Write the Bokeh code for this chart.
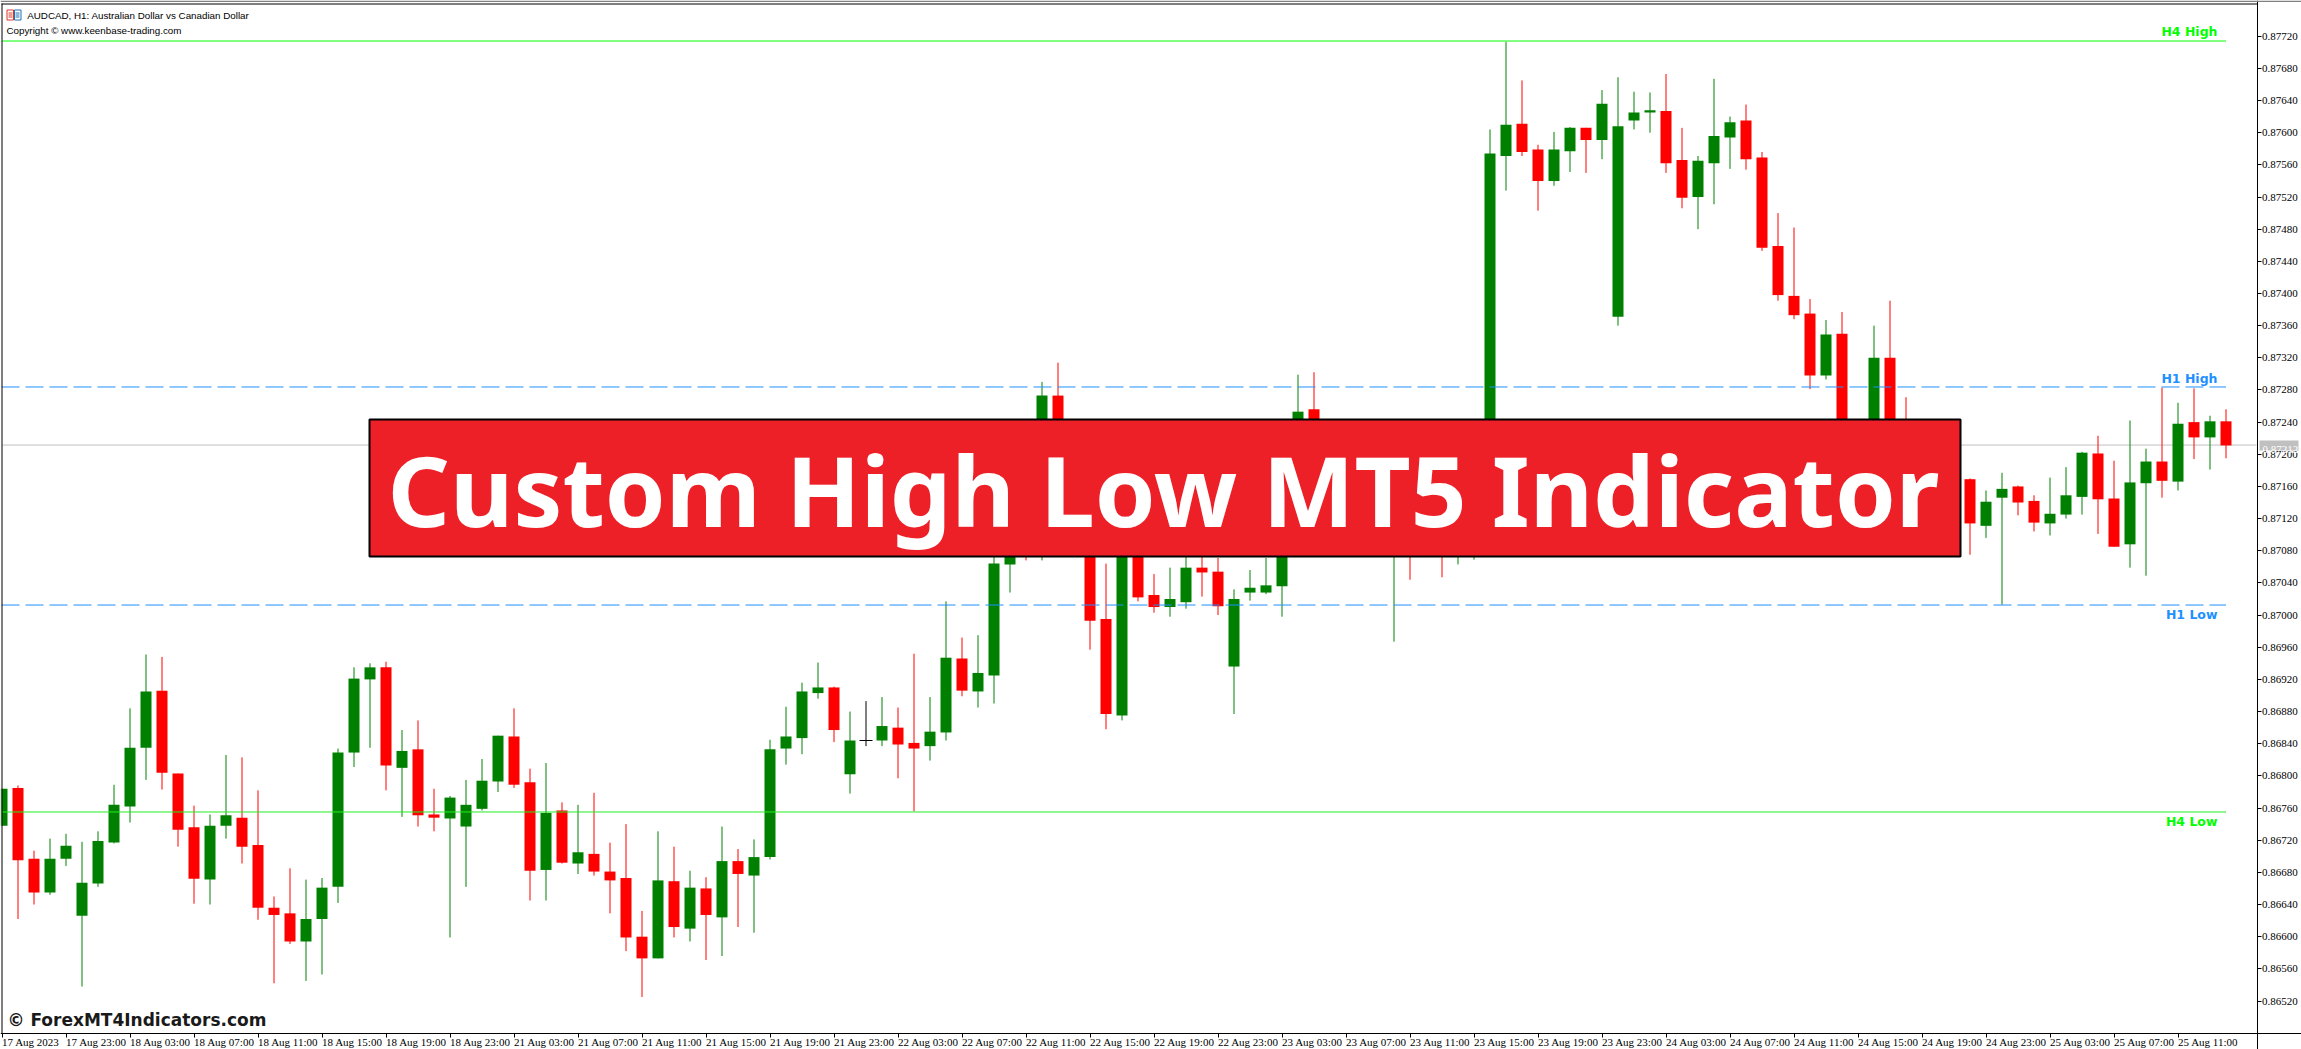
from bokeh.plotting import figure
from bokeh.models import (ColumnDataSource, Range1d, LinearAxis, FixedTicker, PrintfTickFormatter,
                          LabelSet, Label, BoxAnnotation)
from bokeh.core.properties import value
from bokeh.embed import file_html
from bokeh.resources import INLINE

# prices in 1e-5 units
opens = [86738,86785,86697,86655,86697,86626,86666,86717,86762,86835,
86906,86803,86736,86671,86738,86748,86714,86636,86629,86594,
86622,86662,86829,86920,86935,86810,86833,86752,86747,86737,
86759,86793,86849,86792,86683,86757,86691,86703,86681,86673,
86600,86573,86669,86610,86660,86624,86694,86676,86699,86834,
86847,86903,86910,86802,86844,86844,86860,86841,86837,86854,
86946,86905,86925,87063,87178,87130,87273,87200,87165,86995,
86875,87095,87025,87010,87016,87059,87054,86936,87028,87028,
87036,87165,87256,87180,87150,87185,87210,87170,87200,87150,
87195,87130,87180,87200,87571,87611,87579,87540,87577,87606,
87591,87371,87615,87625,87627,87566,87520,87562,87594,87615,
87569,87459,87397,87375,87298,87350,87200,87210,87320,87205,
87150,87190,87165,87169,87111,87146,87160,87142,87114,87125,
87147,87201,87145,87088,87164,87191,87166,87240,87221,87241]
closes = [86784,86695,86655,86697,86713,86667,86719,86764,86835,86905,
86804,86733,86672,86738,86751,86712,86636,86627,86594,86622,
86661,86829,86921,86935,86813,86831,86751,86748,86773,86764,
86794,86850,86789,86682,86754,86692,86705,86681,86670,86599,
86573,86670,86612,86661,86627,86694,86678,86699,86833,86849,
86905,86910,86857,86844,86844,86862,86839,86834,86855,86947,
86906,86928,87064,87180,87130,87273,87200,87170,86993,86877,
87100,87022,87010,87020,87059,87053,87011,87020,87034,87037,
87170,87253,87180,87150,87190,87210,87170,87200,87150,87195,
87130,87180,87225,87574,87610,87576,87540,87579,87606,87591,
87636,87608,87625,87628,87562,87519,87565,87596,87613,87567,
87457,87398,87373,87298,87349,87200,87225,87320,87200,87150,
87190,87165,87175,87114,87141,87157,87140,87115,87126,87149,
87202,87144,87085,87165,87191,87167,87238,87221,87241,87211]
highs = [86784,86788,86707,86722,86728,86718,86731,86789,86884,86951,
86948,86803,86763,86752,86826,86823,86782,86650,86685,86671,
86673,86834,86935,86940,86942,86857,86869,86784,86775,86795,
86821,86850,86884,86809,86816,86767,86764,86779,86717,86740,
86632,86731,86712,86682,86674,86737,86709,86721,86845,86886,
86916,86941,86911,86880,86893,86898,86885,86952,86898,87017,
86972,86975,87105,87200,87230,87290,87314,87225,87200,87064,
87110,87110,87051,87059,87085,87085,87071,87032,87056,87071,
87190,87299,87302,87210,87215,87225,87225,87225,87225,87220,
87225,87210,87240,87604,87713,87665,87585,87601,87607,87606,
87653,87669,87651,87650,87673,87606,87571,87667,87620,87635,
87576,87500,87482,87393,87367,87377,87235,87360,87391,87271,
87220,87215,87210,87170,87155,87177,87161,87149,87171,87184,
87203,87223,87192,87242,87207,87283,87264,87282,87248,87256]
lows = [86738,86622,86640,86652,86688,86538,86662,86716,86742,86795,
86783,86712,86641,86640,86722,86691,86621,86542,86591,86545,
86553,86642,86811,86835,86782,86749,86737,86731,86599,86662,
86757,86780,86785,86645,86645,86691,86678,86676,86629,86582,
86525,86573,86599,86594,86571,86576,86612,86605,86696,86814,
86827,86896,86842,86778,86837,86837,86797,86756,86819,86844,
86899,86885,86890,87028,87068,87068,87150,87140,86957,86858,
86869,87017,87003,86998,87008,87023,87000,86877,87018,87026,
86998,87120,87150,87120,87130,87160,87130,86967,87044,87100,
87047,87063,87069,87150,87528,87571,87503,87534,87551,87550,
87567,87360,87604,87600,87550,87506,87480,87511,87555,87554,
87453,87391,87368,87281,87293,87190,87160,87160,87150,87120,
87110,87120,87100,87075,87096,87013,87124,87104,87099,87120,
87125,87101,87085,87059,87049,87146,87155,87194,87181,87195]

price_ticks = [0.8652,0.8656,0.866,0.8664,0.8668,0.8672,0.8676,0.868,0.8684,0.8688,0.8692,
               0.8696,0.87,0.8704,0.8708,0.8712,0.8716,0.872,0.8724,0.8728,0.8732,0.8736,
               0.874,0.8744,0.8748,0.8752,0.8756,0.876,0.8764,0.8768,0.8772]
time_ticks = [0,4,8,12,16,20,24,28,32,36,40,44,48,52,56,60,64,68,72,76,80,84,88,92,96,100,
              104,108,112,116,120,124,128,132,136]
time_labels = ["17 Aug 2023","17 Aug 23:00","18 Aug 03:00","18 Aug 07:00","18 Aug 11:00","18 Aug 15:00",
               "18 Aug 19:00","18 Aug 23:00","21 Aug 03:00","21 Aug 07:00","21 Aug 11:00","21 Aug 15:00",
               "21 Aug 19:00","21 Aug 23:00","22 Aug 03:00","22 Aug 07:00","22 Aug 11:00","22 Aug 15:00",
               "22 Aug 19:00","22 Aug 23:00","23 Aug 03:00","23 Aug 07:00","23 Aug 11:00","23 Aug 15:00",
               "23 Aug 19:00","23 Aug 23:00","24 Aug 03:00","24 Aug 07:00","24 Aug 11:00","24 Aug 15:00",
               "24 Aug 19:00","24 Aug 23:00","25 Aug 03:00","25 Aug 07:00","25 Aug 11:00"]
h4_high, h4_low, h1_high, h1_low, last_price = 0.87714, 0.867551, 0.872837, 0.870125, 0.872115

W, H = 2301, 1049
def xd(px): return (px - 1.5) / 16.0
def yd(py): return 0.8772 - (py - 35.7) / 80400.0
def scaled(a): return [v / 100000.0 for v in a]

o, c, hi, lo = scaled(opens), scaled(closes), scaled(highs), scaled(lows)
idx = list(range(len(o)))
cols = ["#008000" if b > a else "#FF0000" if b < a else "#000000" for a, b in zip(o, c)]

p = figure(width=W, height=H, x_range=Range1d(xd(0), xd(W)), y_range=Range1d(yd(H), yd(0)),
           x_axis_type=None, y_axis_type=None, toolbar_location=None, output_backend="svg",
           min_border=0, outline_line_color=None, background_fill_color="white", border_fill_color="white")

AXF = "Liberation Sans Narrow"
yax = LinearAxis(ticker=FixedTicker(ticks=price_ticks), formatter=PrintfTickFormatter(format="%.5f"),
                 fixed_location=xd(2256.5), axis_line_color="black", major_tick_line_color="black",
                 major_tick_in=0, major_tick_out=4, minor_tick_line_color=None, major_label_standoff=1,
                 major_label_text_font=AXF, major_label_text_font_size="11px", major_label_text_color="black")
p.add_layout(yax, "right")
xax = LinearAxis(ticker=FixedTicker(ticks=time_ticks), fixed_location=yd(1032.5), axis_line_color="black",
                 major_tick_line_color="black", major_tick_in=0, major_tick_out=4, minor_tick_line_color=None,
                 major_label_text_color=None, major_label_text_font_size="1px")
p.add_layout(xax, "below")
B = 0.31
p.add_layout(LabelSet(source=ColumnDataSource(dict(x=time_ticks, y=[yd(1045.5)] * len(time_ticks), t=time_labels)),
                      x="x", y="y", text="t", text_align="left", text_baseline="alphabetic",
                      text_font=AXF, text_font_size="11px", text_color="black"))

# last price line
p.segment([xd(2)], [last_price], [xd(2256)], [last_price], line_color="#C0C0C0", line_width=1, level="underlay")

src = ColumnDataSource(dict(x=idx, o=o, c=c, h=hi, l=lo, col=cols,
                            top=[max(a, b) for a, b in zip(o, c)], bot=[min(a, b) for a, b in zip(o, c)]))
p.segment("x", "h", "x", "l", source=src, line_color="col", line_width=1)
p.vbar("x", width=11 / 16, top="top", bottom="bot", source=src, fill_color="col", line_color=None)
doji = [i for i in idx if o[i] == c[i]]
p.segment([i - 6.5 / 16 for i in doji], [o[i] for i in doji], [i + 6.5 / 16 for i in doji], [o[i] for i in doji],
          line_color="#000000", line_width=1)

# high / low levels
p.segment([0], [h4_high], [139], [h4_high], line_color="#00FF00", line_width=1)
p.segment([0], [h4_low], [139], [h4_low], line_color="#22EE22", line_width=1)
for lv in (h1_high, h1_low):
    p.segment([-0.03], [lv], [139], [lv], line_color="#1E90FF", line_width=1, line_dash="18 6")

def txt(x, y, s, font, size, color, style="normal", align="left"):
    p.text([xd(x)], [yd(y - B * size)], text=[s], text_font=value(font), text_font_size=value(f"{size}px"), text_color=color,
           text_font_style=style, text_align=align, text_baseline="alphabetic")

txt(2217, 35, "H4 High", "DejaVu Sans", 12.5, "#00FF00", "bold", "right")
txt(2217, 382, "H1 High", "DejaVu Sans", 12.5, "#1E90FF", "bold", "right")
txt(2217, 618, "H1 Low", "DejaVu Sans", 12.5, "#1E90FF", "bold", "right")
txt(2217, 825, "H4 Low", "DejaVu Sans", 12.5, "#00FF00", "bold", "right")

# chart frame pieces: white gutter at the far left, black left and top edges
p.quad(left=[xd(0)], right=[xd(1)], top=[yd(3)], bottom=[yd(1033)], fill_color="white", line_color=None)
p.quad(left=[xd(1)], right=[xd(2)], top=[yd(3)], bottom=[yd(1033)], fill_color="black", line_color=None)
p.quad(left=[xd(1)], right=[xd(2257)], top=[yd(3)], bottom=[yd(4)], fill_color="black", line_color=None)

# header
txt(26.7, 18, "AUDCAD, H1:  Australian Dollar vs Canadian Dollar", "Liberation Sans", 9.8, "black")
txt(6, 33, "Copyright © www.keenbase-trading.com", "Liberation Sans", 9.8, "black")
p.quad(left=[xd(6.5)], right=[xd(13)], top=[yd(9.5)], bottom=[yd(19.5)], fill_color="white", line_color="#D8392B", line_width=1)
p.quad(left=[xd(14)], right=[xd(20.5)], top=[yd(9.5)], bottom=[yd(19.5)], fill_color="white", line_color="#1F6FB5", line_width=1)
for yy in (12.5, 14.5, 16.5):
    p.segment([xd(8)], [yd(yy)], [xd(12)], [yd(yy)], line_color="#D8392B", line_width=1)
    p.segment([xd(15)], [yd(yy)], [xd(19)], [yd(yy)], line_color="#1F6FB5", line_width=1)

# watermark
txt(7, 1025, "© ForexMT4Indicators.com", "DejaVu Sans", 17, "#1A1A1A", "bold")

# banner
p.quad(left=[xd(369)], right=[xd(1960)], top=[yd(419)], bottom=[yd(556)], fill_color="#ED1F27",
       line_color="black", line_width=2)
txt(387, 519, "Custom High Low MT5 Indicator", "Noto Sans", 97.5, "white", "bold")

# top screen stripe and last-price tag
p.add_layout(BoxAnnotation(left=xd(0), right=xd(W), top=yd(0), bottom=yd(1.5), fill_color="#808080", fill_alpha=1, line_color=None))
p.add_layout(BoxAnnotation(left=xd(2259), right=xd(2298), top=yd(440), bottom=yd(450), fill_color="#C0C0C0", fill_alpha=1, line_color=None))
p.add_layout(Label(x=xd(2262), y=yd(449), text="0.87212", text_font=AXF, text_font_size="11px",
                   text_color="white", text_baseline="alphabetic"))

open("out.html", "w").write(file_html(p, INLINE))
